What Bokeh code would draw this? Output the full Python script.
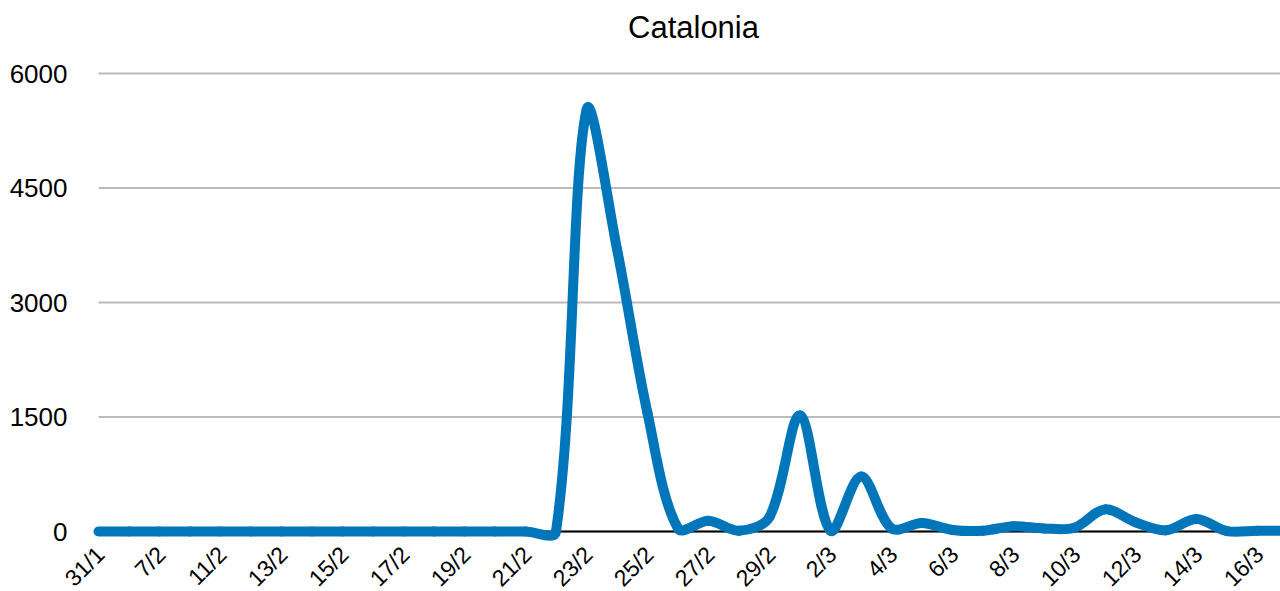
import math
from bokeh.plotting import figure
from bokeh.models import Range1d, ColumnDataSource, LabelSet, Label
from bokeh.core.properties import value
from bokeh.embed import file_html
from bokeh.resources import INLINE

# ---- data ----
dates = ["31/1", "4/2", "7/2", "9/2", "11/2", "12/2", "13/2", "14/2", "15/2", "16/2",
         "17/2", "18/2", "19/2", "20/2", "21/2", "22/2", "23/2", "24/2", "25/2", "26/2",
         "27/2", "28/2", "29/2", "1/3", "2/3", "3/3", "4/3", "5/3", "6/3", "7/3",
         "8/3", "9/3", "10/3", "11/3", "12/3", "13/3", "14/3", "15/3", "16/3", "17/3"]
cases = [0, 0, 0, 0, 0, 0, 0, 0, 0, 0,
         0, 0, 0, 0, 0, 0, 5520, 3700, 1550, 40,
         140, 10, 190, 1520, 10, 720, 40, 110, 20, 10,
         70, 40, 50, 290, 120, 15, 165, 5, 10, 10]
y_ticks = [0, 1500, 3000, 4500, 6000]
title_text = "Catalonia"

# ---- layout (canvas pixels) ----
W, H = 1280, 591
LEFT = 98                   # canvas x of the first category
PX_X = 30.5                 # pixels per category step
PX_Y = 458.0 / 6000.0       # pixels per unit
ZERO_Y = 531.0              # canvas y of value 0
LABEL_Y = 550.0             # canvas y of the date label anchors
TITLE_Y = 27.0
TITLE_X = 693.0
x_start = -LEFT / PX_X
x_end = (W - LEFT) / PX_X
y_min = -(H - ZERO_Y) / PX_Y
y_max = ZERO_Y / PX_Y

FONT = "Liberation Sans"
BLUE = "#0076BA"

# ---- smooth curve (tension spline computed in screen space) ----
n = len(cases)
xs = list(range(n))
pts = [(xs[i] * PX_X, cases[i] * PX_Y) for i in range(n)]
T = 0.33
prev_cp, next_cp = [], []
for i in range(n):
    p0 = pts[max(i - 1, 0)]
    p1 = pts[i]
    p2 = pts[min(i + 1, n - 1)]
    d01 = math.dist(p0, p1)
    d12 = math.dist(p1, p2)
    s = d01 + d12
    fa = T * d01 / s if s else 0.0
    fb = T * d12 / s if s else 0.0
    dx, dy = p2[0] - p0[0], p2[1] - p0[1]
    prev_cp.append((p1[0] - fa * dx, p1[1] - fa * dy))
    next_cp.append((p1[0] + fb * dx, p1[1] + fb * dy))

seg = dict(x0=[], y0=[], x1=[], y1=[], cx0=[], cy0=[], cx1=[], cy1=[])
for i in range(n - 1):
    seg["x0"].append(xs[i]); seg["y0"].append(cases[i])
    seg["x1"].append(xs[i + 1]); seg["y1"].append(cases[i + 1])
    seg["cx0"].append(next_cp[i][0] / PX_X); seg["cy0"].append(next_cp[i][1] / PX_Y)
    seg["cx1"].append(prev_cp[i + 1][0] / PX_X); seg["cy1"].append(prev_cp[i + 1][1] / PX_Y)
src = ColumnDataSource(seg)

p = figure(width=W, height=H, x_range=Range1d(x_start, x_end), y_range=Range1d(y_min, y_max),
           output_backend="svg", toolbar_location=None,
           min_border_left=0, min_border_right=0, min_border_top=0, min_border_bottom=0)
p.outline_line_color = None
p.background_fill_color = "white"
p.border_fill_color = "white"
p.xaxis.visible = False
p.yaxis.visible = False
p.xgrid.visible = False
p.ygrid.visible = False

# horizontal gridlines at the value ticks
p.segment(x0=[0] * len(y_ticks), x1=[x_end] * len(y_ticks), y0=y_ticks, y1=y_ticks,
          line_color="#BBBBBB", line_width=2)
# zero baseline
p.segment(x0=[0], x1=[x_end], y0=[0], y1=[0], line_color="black", line_width=2)

# value labels (left)
ysrc = ColumnDataSource(dict(x=[0] * len(y_ticks), y=y_ticks, text=[str(t) for t in y_ticks]))
p.add_layout(LabelSet(x="x", y="y", text="text", source=ysrc, x_offset=-31,
                      text_align="right", text_baseline="middle", text_font=value(FONT),
                      text_font_size=value("26px"), text_color="black"))

# date labels every second category, rotated 45 degrees
tick_idx = [i for i in range(0, n, 2) if i <= x_end]
lab_src = ColumnDataSource(dict(x=tick_idx,
                                y=[-(LABEL_Y - ZERO_Y) / PX_Y] * len(tick_idx),
                                text=[dates[i] for i in tick_idx]))
p.add_layout(LabelSet(x="x", y="y", text="text", source=lab_src, angle=math.pi / 4,
                      text_align="right", text_baseline="middle", text_font=value(FONT),
                      text_font_size=value("23px"), text_color="black", x_offset=2))

# chart title
p.add_layout(Label(x=(TITLE_X - LEFT) / PX_X, y=(ZERO_Y - TITLE_Y) / PX_Y, text=title_text,
                   text_align="center", text_baseline="middle", text_font=FONT,
                   text_font_size="31px", text_color="black"))

p.bezier(x0="x0", y0="y0", x1="x1", y1="y1", cx0="cx0", cy0="cy0", cx1="cx1", cy1="cy1",
         source=src, line_color=BLUE, line_width=10, line_cap="round")

open("out.html", "w").write(file_html(p, INLINE))
